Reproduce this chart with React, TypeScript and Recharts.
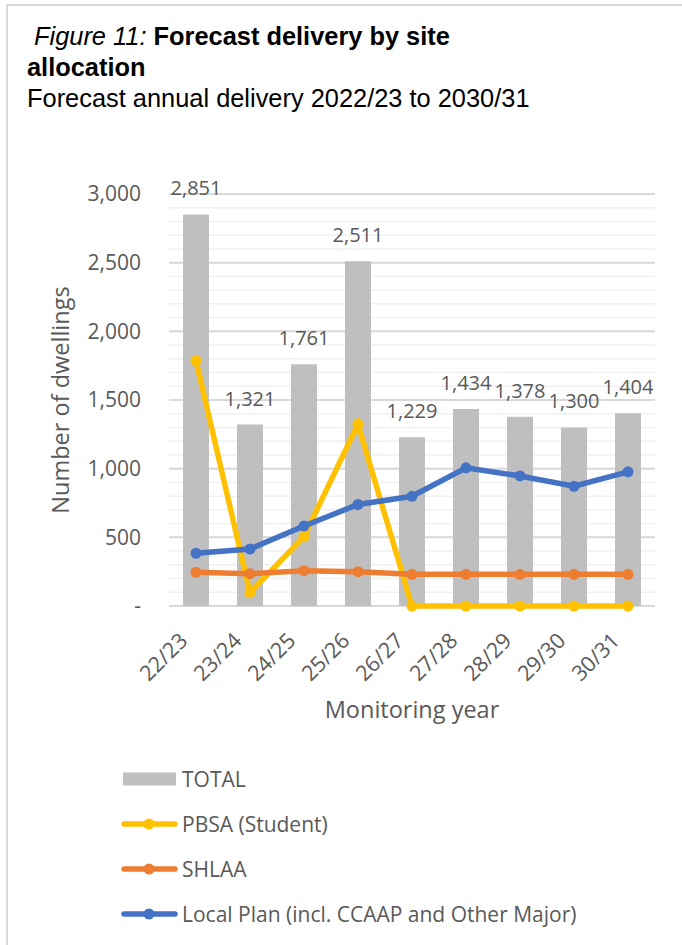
import React from 'react';
import { ComposedChart, Bar, Line, XAxis, YAxis, CartesianGrid, LabelList, Label } from 'recharts';

const categories = ['22/23', '23/24', '24/25', '25/26', '26/27', '27/28', '28/29', '29/30', '30/31'];
const totalValues = [2851, 1321, 1761, 2511, 1229, 1434, 1378, 1300, 1404];
const pbsaValues = [1786, 97, 505, 1324, 0, 0, 0, 0, 0];
const shlaaValues = [245, 235, 257, 250, 231, 231, 231, 231, 231];
const localPlanValues = [384, 415, 583, 739, 799, 1006, 947, 872, 977];
const yTicks = [0, 500, 1000, 1500, 2000, 2500, 3000];
const minorGrid = Array.from({ length: 30 }, (_, i) => (i + 1) * 100);

const AXIS_GREY = '#595959';
const FONT = '"Open Sans", sans-serif';

const series = [
  { key: 'pbsa', name: 'PBSA (Student)', color: '#ffc000' },
  { key: 'shlaa', name: 'SHLAA', color: '#ed7d31' },
  { key: 'localPlan', name: 'Local Plan (incl. CCAAP and Other Major)', color: '#4472c4' },
];

const chartData = categories.map((year, i) => ({
  year,
  total: totalValues[i],
  pbsa: pbsaValues[i],
  shlaa: shlaaValues[i],
  localPlan: localPlanValues[i],
}));

const fmt = (v: number) => (v === 0 ? '-' : v.toLocaleString('en-US'));

const XTick = ({ x, y, payload }: any) => (
  <g transform={`translate(${x - 7},${y + 28})`}>
    <text transform="rotate(-45)" textAnchor="end" fill={AXIS_GREY} fontSize={21.5} fontFamily={FONT}>
      {payload.value}
    </text>
  </g>
);

const YTitle = ({ viewBox }: any) => {
  const cx = viewBox.x + 60;
  const cy = viewBox.y + viewBox.height / 2;
  return (
    <text x={cx} y={cy} transform={`rotate(-90 ${cx} ${cy})`} textAnchor="middle" dominantBaseline="central"
      fill={AXIS_GREY} fontSize={23.5} fontFamily={FONT}>
      Number of dwellings
    </text>
  );
};

const XTitle = ({ viewBox }: any) => (
  <text x={viewBox.x + viewBox.width / 2} y={viewBox.y + 103} textAnchor="middle" dominantBaseline="central"
    fill={AXIS_GREY} fontSize={23.5} fontFamily={FONT}>
    Monitoring year
  </text>
);

function ChartLegend() {
  const rowY = [779, 824, 869, 914];
  return (
    <svg width={682} height={945} style={{ position: 'absolute', left: 0, top: 0, pointerEvents: 'none' }}>
      <rect x={123} y={rowY[0] - 6.5} width={53} height={13} fill="#bfbfbf" />
      <text x={182} y={rowY[0]} dominantBaseline="central" fill={AXIS_GREY} fontSize={21} fontFamily={FONT}>TOTAL</text>
      {series.map((s, i) => (
        <g key={s.key}>
          <line x1={124} x2={175} y1={rowY[i + 1]} y2={rowY[i + 1]} stroke={s.color} strokeWidth={5.5} strokeLinecap="round" />
          <circle cx={149} cy={rowY[i + 1]} r={5.5} fill={s.color} />
          <text x={182} y={rowY[i + 1]} dominantBaseline="central" fill={AXIS_GREY} fontSize={21} fontFamily={FONT}>
            {s.name}
          </text>
        </g>
      ))}
    </svg>
  );
}

export default function App() {
  return (
    <div style={{ position: 'absolute', left: 0, top: 0, width: 682, height: 945, background: '#fff', overflow: 'hidden' }}>
      <div style={{ position: 'absolute', left: 6, top: 4, width: 700, height: 960, borderTop: '2px solid #d9d9d9', borderLeft: '2px solid #d9d9d9' }} />
      <div style={{ position: 'absolute', left: 27, top: 21, fontFamily: '"Liberation Sans", Arial, sans-serif', fontSize: 25.4, lineHeight: '31px', color: '#000' }}>
        <div>
          <span style={{ fontStyle: 'italic', marginLeft: 7 }}>Figure 11:</span>{' '}
          <span style={{ fontWeight: 'bold' }}>Forecast delivery by site</span>
        </div>
        <div style={{ fontWeight: 'bold' }}>allocation</div>
        <div>Forecast annual delivery 2022/23 to 2030/31</div>
      </div>
      <div style={{ position: 'absolute', left: 0, top: 0 }}>
        <ComposedChart width={682} height={730} data={chartData} margin={{ top: 194, right: 27, bottom: 0, left: 0 }} barSize={26}>
          <CartesianGrid vertical={false} horizontalValues={minorGrid} stroke="#f0f0f0" strokeWidth={1.5} />
          <CartesianGrid vertical={false} stroke="#d9d9d9" strokeWidth={2} />
          <XAxis dataKey="year" height={124} tickLine={false} axisLine={false} tick={<XTick />} interval={0}>
            <Label content={<XTitle />} />
          </XAxis>
          <YAxis width={169} domain={[0, 3000]} ticks={yTicks} tickFormatter={fmt} tickLine={false} axisLine={false}
            tickMargin={22} tick={{ fill: AXIS_GREY, fontSize: 21, fontFamily: FONT }} interval={0}>
            <Label content={<YTitle />} />
          </YAxis>
          <Bar dataKey="total" name="TOTAL" fill="#bfbfbf" isAnimationActive={false}>
            <LabelList dataKey="total" position="top" offset={19} formatter={(v: any) => fmt(Number(v))}
              fill={AXIS_GREY} fontSize={20} fontFamily={FONT} />
          </Bar>
          {series.map((s) => (
            <Line key={s.key} dataKey={s.key} name={s.name} type="linear" stroke={s.color} strokeWidth={5.5}
              dot={{ r: 5.5, fill: s.color, stroke: s.color, strokeWidth: 0 }} activeDot={false} isAnimationActive={false} />
          ))}
        </ComposedChart>
      </div>
      <ChartLegend />
    </div>
  );
}
